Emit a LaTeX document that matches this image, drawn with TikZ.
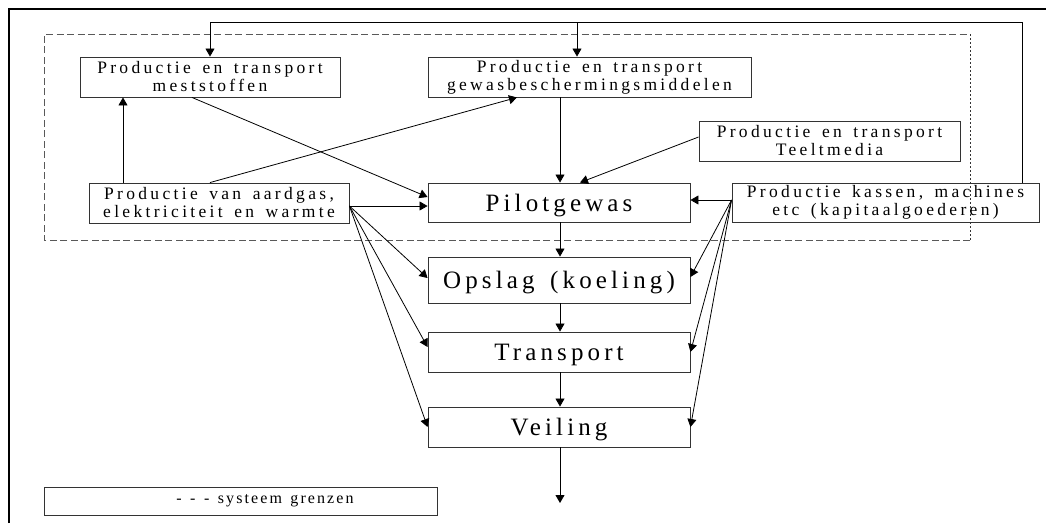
\documentclass[tikz,border=0pt]{standalone}
\usepackage{fontspec}
\setmainfont{Liberation Serif}
\newfontfamily\smallsp[LetterSpace=19,WordSpace=1.5]{Liberation Serif}
\newfontfamily\bigsp[LetterSpace=16.5,WordSpace=1.5]{Liberation Serif}
\newfontfamily\legsp[LetterSpace=13,WordSpace=1.4]{Liberation Serif}
\usetikzlibrary{arrows.meta}
\begin{document}
\begin{tikzpicture}[x=1pt,y=-1pt,
  box/.style={draw=black!80, line width=0.9pt, inner sep=0pt, align=center, anchor=center},
  smalltxt/.style={font=\smallsp\fontsize{17.5}{18}\selectfont},
  bigtxt/.style={font=\bigsp\fontsize{25}{30}\selectfont, text height=17pt, text depth=0pt},
  arr/.style={line width=0.8pt, -{Triangle[length=8pt,width=9pt]}},
  sysbound/.style={draw=black!65, line width=0.8pt, dash pattern=on 7pt off 3.5pt},
  sysboundr/.style={draw=black!80, line width=0.8pt, dash pattern=on 2pt off 2pt}]
\useasboundingbox (0,0) rectangle (1046,523);
\draw[line width=2pt] (8.5,523) -- (8.5,9) -- (1046,9);
\draw[sysbound] (970,240) -- (44,240) -- (44,34) -- (970,34);
\draw[sysboundr] (970,34) -- (970,240);

\node[box,smalltxt,minimum width=260pt,minimum height=40pt] (mest) at (210,77) {Productie en transport\\meststoffen};
\node[box,smalltxt,minimum width=323pt,minimum height=40pt] (gewas) at (589.5,77) {Productie en transport\\gewasbeschermingsmiddelen};
\node[box,smalltxt,minimum width=261pt,minimum height=40pt] (teelt) at (829.5,141) {Productie en transport\\Teeltmedia};
\node[box,smalltxt,minimum width=260pt,minimum height=40pt] (aard) at (219,203) {Productie van aardgas,\\elektriciteit en warmte};
\node[box,bigtxt,minimum width=262pt,minimum height=39pt] (pilot) at (559,202.5) {Pilotgewas};
\node[box,smalltxt,minimum width=307pt,minimum height=39pt] (kas) at (885.5,202.5) {Productie kassen, machines\\etc (kapitaalgoederen)};
\node[box,bigtxt,minimum width=262pt,minimum height=46pt] (opslag) at (559,280) {Opslag (koeling)};
\node[box,bigtxt,minimum width=262pt,minimum height=40pt] (trans) at (559,352) {Transport};
\node[box,bigtxt,minimum width=262pt,minimum height=40pt] (veil) at (559,427) {Veiling};
\node[box,minimum width=393pt,minimum height=28pt] (leg) at (240.5,501) {};
\node[font=\legsp\fontsize{16}{16}\selectfont, inner sep=0pt] (legtxt) at (265,501) {- - - systeem grenzen};

\coordinate (tl) at (210,22);
\coordinate (tm) at (577,22);
\coordinate (tr) at (1022,22);
\coordinate (c123) at (123,0);
\coordinate (c517) at (517,0);
\coordinate (c192) at (192,0);
\coordinate (cmid) at (560,0);
\coordinate (c580) at (580,0);
\coordinate (r197) at (0,197);
\coordinate (r206) at (0,206);
\coordinate (r137) at (0,137);
\coordinate (r200) at (0,200);
\coordinate (rl1) at (0,278);
\coordinate (rl2) at (0,347);
\coordinate (rl3) at (0,427);
\coordinate (rr1) at (0,277);
\coordinate (rr2) at (0,352);
\coordinate (rr3) at (0,427);
\coordinate (out) at (560,503);

\draw[arr] (kas.north -| tr) -- (tr) -- (tl) -- (tl |- mest.north);
\draw[arr] (tm) -- (tm |- gewas.north);
\draw[arr] (aard.north -| c123) -- (mest.south -| c123);
\draw[arr] (aard.north -| tl) -- (gewas.south -| c517);
\draw[arr] (mest.south -| c192) -- (pilot.west |- r197);
\draw[arr] (aard.east |- r206) -- (pilot.west |- r206);
\draw[arr] (aard.east |- r206) -- (opslag.west |- rl1);
\draw[arr] (aard.east |- r206) -- (trans.west |- rl2);
\draw[arr] (aard.east |- r206) -- (veil.west |- rl3);
\draw[arr] (gewas.south -| cmid) -- (pilot.north -| cmid);
\draw[arr] (teelt.west |- r137) -- (pilot.north -| c580);
\draw[arr] (kas.west |- r200) -- (pilot.east |- r200);
\draw[arr] (kas.west |- r200) -- (opslag.east |- rr1);
\draw[arr] (kas.west |- r200) -- (trans.east |- rr2);
\draw[arr] (kas.west |- r200) -- (veil.east |- rr3);
\draw[arr] (pilot.south -| cmid) -- (opslag.north -| cmid);
\draw[arr] (opslag.south -| cmid) -- (trans.north -| cmid);
\draw[arr] (trans.south -| cmid) -- (veil.north -| cmid);
\draw[arr] (veil.south -| cmid) -- (out);
\end{tikzpicture}
\end{document}
